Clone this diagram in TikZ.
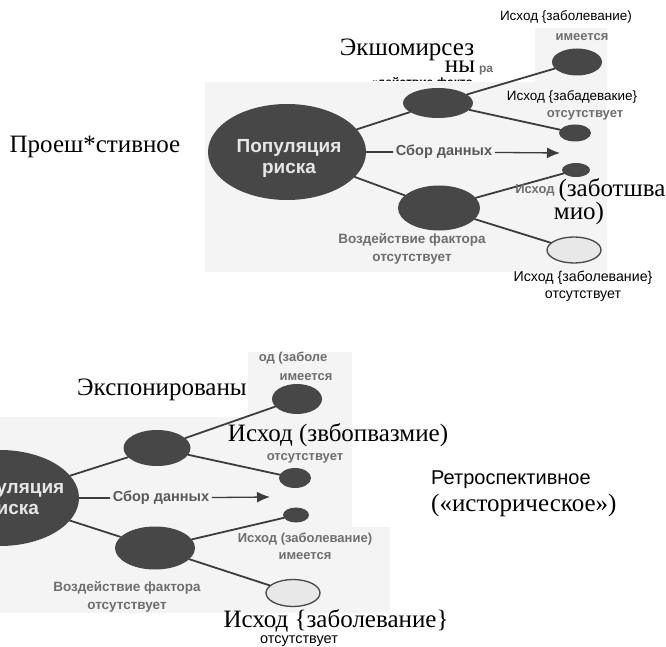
\documentclass[tikz,border=0pt]{standalone}
\usepackage{fontspec}
\setmainfont{Liberation Serif}
\setsansfont{Liberation Sans}
\usetikzlibrary{arrows.meta}
\usetikzlibrary{shapes.geometric}
\usetikzlibrary{positioning}

\definecolor{blobgray}{HTML}{474747}
\definecolor{linkgray}{HTML}{3C3C3C}
\definecolor{scangray}{HTML}{6E6E6E}
\definecolor{scanbg}{HTML}{F4F4F4}
\definecolor{popwhite}{HTML}{E6E6E6}

\begin{document}
\begin{tikzpicture}[x=1pt, y=-1pt, line cap=round, line join=round,
  blob/.style={ellipse, fill=blobgray, inner sep=0pt},
  hollow/.style={ellipse, draw=blobgray, line width=1.3pt, fill=gray!18, inner sep=0pt},
  link/.style={draw=linkgray, line width=1.8pt},
  poptext/.style={font=\sffamily\bfseries\fontsize{19}{21}\selectfont, text=popwhite, align=center, inner sep=0pt},
  collect/.style={font=\sffamily\bfseries\fontsize{14.5}{16}\selectfont, text=linkgray!85, inner sep=3pt},
  scantext/.style={font=\sffamily\bfseries\fontsize{13}{17}\selectfont, text=scangray, align=center, inner sep=0pt},
  overserif/.style={font=\fontsize{25}{24}\selectfont, align=center, inner sep=0pt},
  oversans/.style={font=\sffamily\fontsize{13.5}{17}\selectfont, align=center, inner sep=0pt}]
\useasboundingbox (0,0) rectangle (666,647);

% scanned backgrounds
\fill[scanbg] (205,82) -- (535,82) -- (535,28) -- (607,28) -- (607,272) -- (205,272) -- cycle;
\fill[scanbg] (0,417) -- (248,417) -- (248,352) -- (352,352) -- (352,527) -- (390,527) -- (390,613) -- (0,613) -- cycle;

% prospective study
\node[blob, minimum width=158pt, minimum height=96pt] (pop) at (287,152) {};
\node[poptext] (popname) at (289,158) {Популяция\\риска};
\node[blob, minimum width=70pt, minimum height=30pt] (expd) at (438,103) {};
\node[blob, minimum width=82pt, minimum height=45pt] (unexp) at (439,208) {};
\node[blob, minimum width=50pt, minimum height=27pt] (outA) at (577,62) {};
\node[blob, minimum width=32pt, minimum height=17pt] (outB) at (575,133) {};
\node[blob, minimum width=28pt, minimum height=14pt] (outC) at (576,170) {};
\node[hollow, minimum width=54pt, minimum height=26pt] (outD) at (574,250) {};
\draw[link] (pop) -- (expd);
\draw[link] (pop) -- (unexp);
\draw[link] (expd) -- (outA);
\draw[link] (expd) -- (outB);
\draw[link] (unexp) -- (outC);
\draw[link] (unexp) -- (outD);
\node[collect] (gather) at (444,152) {Сбор данных};
\coordinate (gatherTip) at (560,153);
\draw[linkgray, line width=1.3pt] (pop) -- (gather);
\draw[linkgray, line width=1.3pt, -{Latex[length=13pt, width=11pt]}] (gather) -- (gatherTip);

\node[overserif] (prosp) at (95,147) {Проеш*стивное};
\node[overserif] (expword) at (407,50) {Экшомирсез};
\node[overserif] (expend) at (460,67) {ны};
\node[scantext, font=\sffamily\bfseries\fontsize{12}{14}\selectfont] (expfrag) at (486,71) {ра};
\begin{scope}
\clip (360,70) rectangle (480,81);
\node[oversans, font=\sffamily\bfseries\fontsize{12}{14}\selectfont] (actfrag) at (422,83) {«действие факто};
\end{scope}
\node[oversans] (resA) at (566,17) {Исход \{заболевание)};
\node[scantext] (hasA) at (582,37) {имеется};
\node[oversans] (resB) at (572,97) {Исход \{забадевакие\}};
\node[scantext] (noB) at (585,115) {отсутствует};
\node[scantext] (resC) at (535,190) {Исход};
\node[overserif] (resCa) at (612,190) {(заботшва};
\node[overserif] (resCb) at (579,213) {мио)};
\node[scantext, font=\sffamily\bfseries\fontsize{13.5}{18}\selectfont] (noexp) at (412,249) {Воздействие фактора\\отсутствует};
\node[oversans, font=\sffamily\fontsize{14.2}{17}\selectfont] (resD) at (583,286) {Исход \{заболевание\}\\отсутствует};

% retrospective study
\node[blob, minimum width=158pt, minimum height=96pt] (popR) at (0,498) {};
\node[poptext] (popnameR) at (12,499) {Популяция\\риска};
\node[blob, minimum width=67pt, minimum height=36pt] (expdR) at (157,448) {};
\node[blob, minimum width=80pt, minimum height=43pt] (unexpR) at (155,548) {};
\node[blob, minimum width=50pt, minimum height=30pt] (outAR) at (297,399) {};
\node[blob, minimum width=32pt, minimum height=20pt] (outBR) at (295,478) {};
\node[blob, minimum width=26pt, minimum height=15pt] (outCR) at (296,515) {};
\node[hollow, minimum width=54pt, minimum height=27pt] (outDR) at (293,593) {};
\draw[link] (popR) -- (expdR);
\draw[link] (popR) -- (unexpR);
\draw[link] (expdR) -- (outAR);
\draw[link] (expdR) -- (outBR);
\draw[link] (unexpR) -- (outCR);
\draw[link] (unexpR) -- (outDR);
\node[collect] (gatherR) at (161,498) {Сбор данных};
\coordinate (gatherTipR) at (270,497);
\draw[linkgray, line width=1.3pt] (popR) -- (gatherR);
\draw[linkgray, line width=1.3pt, -{Latex[length=13pt, width=11pt]}] (gatherR) -- (gatherTipR);

\node[overserif] (expwordR) at (162,390) {Экспонированы};
\node[scantext] (resAR) at (293,358) {од (заболе};
\node[scantext] (hasAR) at (306,377) {имеется};
\node[overserif] (resBR) at (338,435) {Исход (звбопвазмие)};
\node[scantext] (noBR) at (305,458) {отсутствует};
\node[scantext] (resCR) at (305,546) {Исход (заболевание)\\имеется};
\node[scantext, font=\sffamily\bfseries\fontsize{13.5}{18}\selectfont] (noexpR) at (127,597) {Воздействие фактора\\отсутствует};
\node[overserif] (resDR) at (336,621) {Исход \{заболевание\}};
\node[oversans, font=\sffamily\fontsize{14.5}{17}\selectfont] (noDR) at (299,641) {отсутствует};
\node[font=\sffamily\fontsize{20}{24}\selectfont, anchor=west, inner sep=0pt] (retro) at (431,480) {Ретроспективное};
\node[overserif, anchor=west] (retrob) at (431,505) {(«историческое»)};
\end{tikzpicture}
\end{document}
